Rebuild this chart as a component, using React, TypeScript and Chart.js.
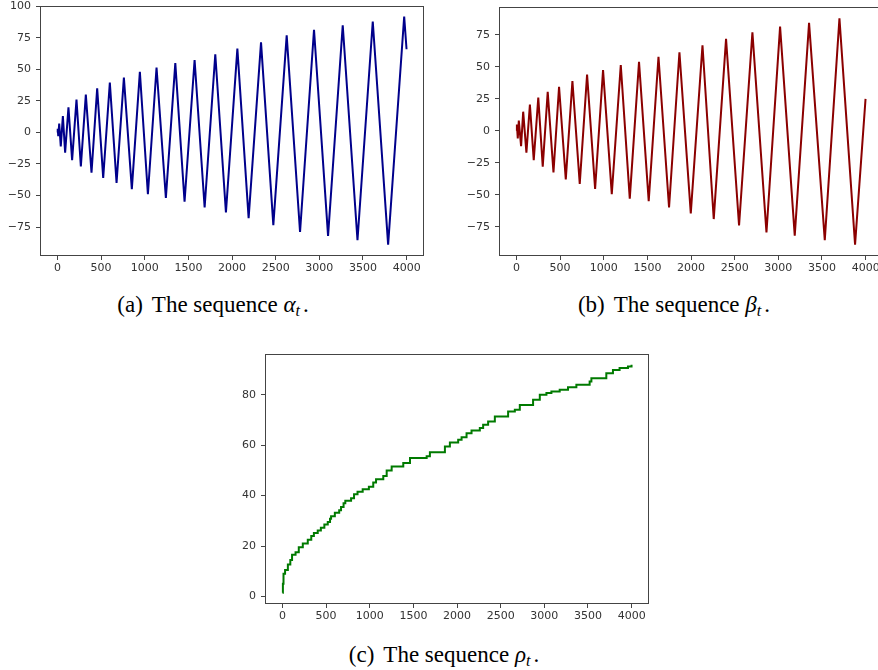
import React, { useEffect, useRef } from "react";
import { Chart, registerables } from "chart.js";

Chart.register(...registerables);

// ---------- data ----------
const alphaT = [0, 3, 9, 20, 38, 62, 88, 126, 168, 218, 268, 325, 390, 455, 524, 600, 677, 761, 852, 944, 1036, 1135, 1242, 1350, 1456, 1571, 1686, 1808, 1930, 2061, 2190, 2332, 2473, 2626, 2779, 2939, 3100, 3268, 3437, 3612, 3788, 3972, 3999];
const alphaV = [0, 3, -3, 7, -11, 13, -16, 20, -22, 26, -27, 30, -32, 35, -36, 39.5, -40, 43.5, -45, 48, -49, 51.5, -52, 55, -55, 57.5, -59.5, 62, -63.5, 66.5, -68, 71.5, -73.5, 77, -79, 81.5, -82, 85, -85.5, 88, -89, 92, 66];

const betaT = [0, 5, 15, 27, 53, 77, 114, 154, 198, 250, 301, 358, 424, 488, 565, 641, 725, 809, 901, 992, 1092, 1195, 1298, 1404, 1515, 1627, 1748, 1867, 1997, 2131, 2260, 2401, 2550, 2703, 2864, 3020, 3188, 3352, 3532, 3700, 3879, 3999];
const betaV = [0, 5, -6, 8, -12, 15, -17, 20.5, -23, 26, -28, 30.5, -32.5, 34.5, -38, 39, -41.5, 44, -45.5, 47.5, -49.5, 51.5, -53, 54, -55, 58, -60, 61.5, -64.5, 67, -69, 72, -74, 77, -79.5, 81.5, -82, 84.5, -85.5, 88, -89, 25];

const rhoT = [0, 5, 12, 30, 62, 90, 110, 150, 187, 233, 290, 330, 360, 404, 440, 480, 519, 545, 557, 600, 650, 671, 700, 720, 786, 820, 860, 919, 990, 1040, 1072, 1155, 1194, 1251, 1384, 1461, 1652, 1689, 1861, 1918, 2013, 2052, 2109, 2166, 2261, 2299, 2356, 2433, 2585, 2662, 2719, 2871, 2948, 3024, 3081, 3176, 3271, 3367, 3519, 3539, 3710, 3786, 3862, 3958, 3999];
const rhoV = [1.5, 5, 9, 10.5, 12.7, 14.5, 16.5, 17.5, 19.5, 21, 22.5, 24, 25.2, 26.2, 27.3, 28.5, 29.5, 30.8, 31.8, 33.2, 34.2, 35.5, 37, 38, 39, 40.5, 41.5, 42.5, 43.5, 45.2, 46.5, 47.8, 50, 51.6, 52.9, 54.9, 55.6, 57.2, 59.5, 61.1, 62.2, 63.2, 64.8, 65.8, 66.8, 68.1, 69.4, 71.4, 73.4, 74.1, 76, 78, 80, 80.7, 81.3, 82, 83, 84, 85.3, 86.6, 88.6, 89.9, 90.6, 91.2, 91.9];

const xTicks = [0, 500, 1000, 1500, 2000, 2500, 3000, 3500, 4000];
const alphaYTicks = [-75, -50, -25, 0, 25, 50, 75, 100];
const betaYTicks = [-75, -50, -25, 0, 25, 50, 75];
const rhoYTicks = [0, 20, 40, 60, 80];

const captionA = "The sequence ";
const captionB = "The sequence ";
const captionC = "The sequence ";

// ---------- helpers ----------
const fmt = (v: number) => (v < 0 ? "\u2212" + Math.abs(v) : String(v));

const boxPlugin = {
  id: "box",
  afterDraw(chart: any) {
    const { ctx, chartArea } = chart;
    ctx.save();
    ctx.strokeStyle = "#444";
    ctx.lineWidth = 1;
    const l = Math.round(chartArea.left) + 0.5;
    const t = Math.round(chartArea.top) + 0.5;
    const r = Math.round(chartArea.right) - 0.5;
    const b = Math.round(chartArea.bottom) - 0.5;
    ctx.strokeRect(l, t, r - l, b - t);
    ctx.restore();
  },
};

function makeConfig(
  xs: number[],
  ys: number[],
  color: string,
  yMin: number,
  yMax: number,
  yTicks: number[],
  padTop: number,
  stepped: boolean
): any {
  const tickFont = { family: "'DejaVu Sans', sans-serif", size: 11 };
  return {
    type: "line",
    data: {
      datasets: [
        {
          data: xs.map((x, i) => ({ x, y: ys[i] })),
          borderColor: color,
          borderWidth: 2,
          pointRadius: 0,
          tension: 0,
          fill: false,
          stepped: stepped,
        },
      ],
    },
    options: {
      animation: false,
      responsive: false,
      devicePixelRatio: 1,
      layout: { padding: { top: padTop, right: 16, bottom: 0, left: 0 } },
      plugins: { legend: { display: false }, tooltip: { enabled: false } },
      scales: {
        x: {
          type: "linear",
          min: -200,
          max: 4199,
          afterBuildTicks: (s: any) => {
            s.ticks = xTicks.map((v) => ({ value: v }));
          },
          afterFit: (s: any) => {
            s.height = 24;
            s.paddingLeft = 0;
            s.paddingRight = 0;
          },
          grid: {
            display: true,
            drawOnChartArea: false,
            drawTicks: true,
            tickLength: 4,
            tickColor: "#444",
            color: "#444",
          },
          border: { display: false },
          ticks: {
            font: tickFont,
            color: "#333",
            padding: 2,
            maxRotation: 0,
            autoSkip: false,
            callback: (v: any) => fmt(Number(v)),
          },
        },
        y: {
          type: "linear",
          min: yMin,
          max: yMax,
          afterBuildTicks: (s: any) => {
            s.ticks = yTicks.map((v) => ({ value: v }));
          },
          afterFit: (s: any) => {
            s.width = 40;
            s.paddingTop = 0;
            s.paddingBottom = 0;
          },
          grid: {
            display: true,
            drawOnChartArea: false,
            drawTicks: true,
            tickLength: 4,
            tickColor: "#444",
            color: "#444",
          },
          border: { display: false },
          ticks: {
            font: tickFont,
            color: "#333",
            padding: 5,
            autoSkip: false,
            callback: (v: any) => fmt(Number(v)),
          },
        },
      },
    },
    plugins: [boxPlugin],
  };
}

function Panel(props: { left: number; top: number; config: any }) {
  const ref = useRef<HTMLCanvasElement | null>(null);
  useEffect(() => {
    if (!ref.current) return;
    const chart = new Chart(ref.current, props.config);
    return () => chart.destroy();
  }, []);
  return (
    <canvas
      ref={ref}
      width={440}
      height={280}
      style={{ position: "absolute", left: props.left, top: props.top, width: 440, height: 280 }}
    />
  );
}

function Caption(props: { center: number; top: number; label: string; text: string; sym: string }) {
  return (
    <div
      style={{
        position: "absolute",
        left: props.center - 160,
        top: props.top,
        width: 320,
        textAlign: "center",
        fontFamily: "'Liberation Serif', 'Times New Roman', serif",
        fontSize: 23,
        lineHeight: "24px",
        color: "#000",
        whiteSpace: "nowrap",
      }}
    >
      <span>{props.label}</span>
      <span style={{ marginLeft: 9 }}>{props.text}</span>
      <i>{props.sym}</i>
      <sub style={{ fontSize: "0.7em", lineHeight: 0, verticalAlign: "-0.25em" }}>
        <i>t</i>
      </sub>
      <span style={{ marginLeft: 3 }}>.</span>
    </div>
  );
}

export default function App() {
  const cfgA = makeConfig(alphaT, alphaV, "#00008b", -98, 100.3, alphaYTicks, 6, false);
  const cfgB = makeConfig(betaT, betaV, "#8b0000", -97.9, 96.9, betaYTicks, 7, false);
  const cfgC = makeConfig(rhoT, rhoV, "#007a00", -3, 96.2, rhoYTicks, 6, true);
  return (
    <div
      style={{
        position: "fixed",
        left: 0,
        top: 0,
        width: 878,
        height: 670,
        overflow: "hidden",
        background: "#fff",
      }}
    >
      <Panel left={0} top={0} config={cfgA} />
      <Panel left={459} top={0} config={cfgB} />
      <Panel left={225} top={348} config={cfgC} />
      <Caption center={213} top={293} label="(a)" text={captionA} sym={"\u03B1"} />
      <Caption center={674} top={293} label="(b)" text={captionB} sym={"\u03B2"} />
      <Caption center={444} top={643} label="(c)" text={captionC} sym={"\u03C1"} />
    </div>
  );
}
